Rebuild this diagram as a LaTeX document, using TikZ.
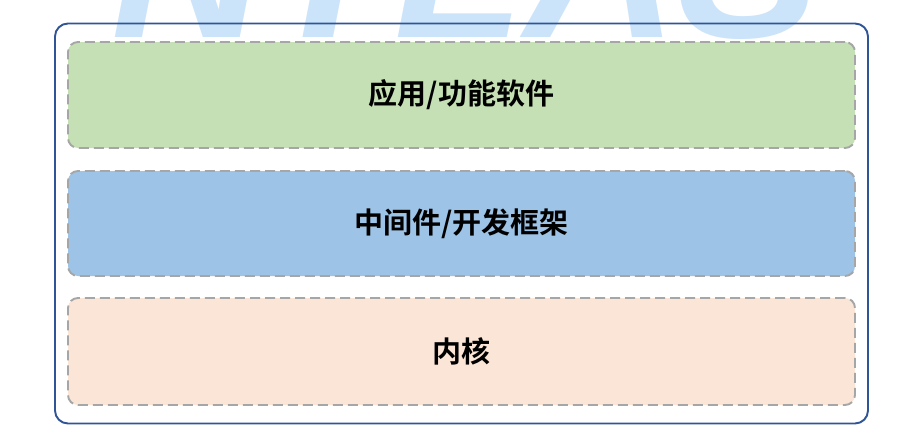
\documentclass[tikz,border=0pt]{standalone}
\usepackage{fontspec}
\usepackage{xcolor}
\usetikzlibrary{positioning,fit}
\newfontfamily\cjk{Noto Sans CJK SC}[BoldFont={Noto Sans CJK SC Bold}]
\newfontfamily\markfont{Liberation Sans}
\definecolor{appgreen}{HTML}{C5E0B4}
\definecolor{midblue}{HTML}{9DC3E6}
\definecolor{kernpeach}{HTML}{FBE5D6}
\definecolor{framegray}{HTML}{A6A6A6}
\definecolor{outerblue}{HTML}{2F5597}
\definecolor{markblue}{HTML}{CCE4FA}

\begin{document}
\begin{tikzpicture}[
    layer/.style={draw=framegray, line width=1.1pt, dash pattern=on 0.2cm off 0.1cm,
                  rounded corners=0.2cm, minimum width=15.74cm, outer sep=0pt,
                  align=center, font=\cjk\bfseries\fontsize{16.5}{19}\selectfont},
    outer/.style={draw=outerblue, line width=1.1pt, rounded corners=0.26cm}
]
    \useasboundingbox (0,0) rectangle (18.22,-8.60);
    \begin{scope}
        \clip (0,0) rectangle (18.22,-8.60);
        \node[anchor=base west, inner sep=0, text=markblue,
              font=\markfont\bfseries\itshape\fontsize{121}{121}\selectfont] (mark) at (2.22,-0.74) {NTLAS};
    \end{scope}

    \node[layer, fill=appgreen, minimum height=2.12cm] (app) at (9.23,-1.90) {应用/功能软件};
    \node[layer, fill=midblue, minimum height=2.10cm, below=0.46cm of app] (mid) {中间件/开发框架};
    \node[layer, fill=kernpeach, minimum height=2.14cm, below=0.44cm of mid] (kern) {内核};

    \node[outer, fit=(app) (kern), inner xsep=0.26cm, inner ysep=0.37cm] (frame) {};
\end{tikzpicture}
\end{document}
